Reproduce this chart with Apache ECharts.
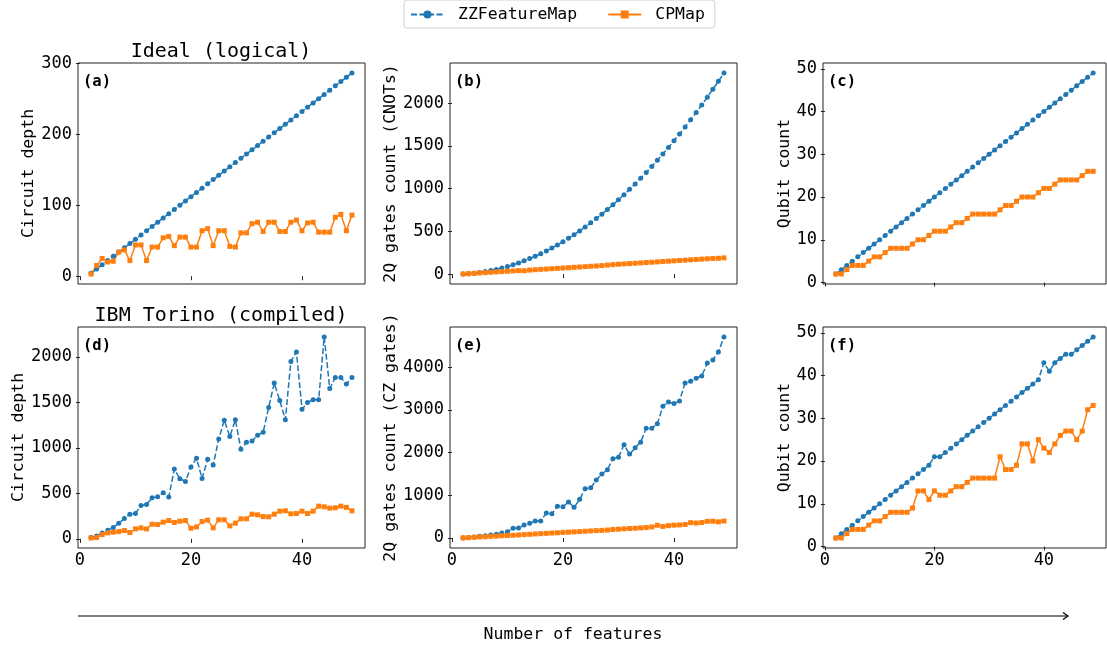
<!DOCTYPE html>
<html>
<head>
<meta charset="utf-8">
<script src="https://cdn.jsdelivr.net/npm/echarts@6/dist/echarts.min.js"></script>
<style>
  html, body { margin: 0; padding: 0; background: #fff; }
  #chart { width: 1107px; height: 649px; }
</style>
</head>
<body>
<div id="chart"></div>
<script>
const features = [2, 3, 4, 5, 6, 7, 8, 9, 10, 11, 12, 13, 14, 15, 16, 17, 18, 19, 20, 21, 22, 23, 24, 25,
  26, 27, 28, 29, 30, 31, 32, 33, 34, 35, 36, 37, 38, 39, 40, 41, 42, 43, 44, 45, 46, 47, 48, 49];

// (a) ideal circuit depth
const zzDepthIdeal = [4, 10, 16, 22, 28, 34, 40, 46, 52, 58, 64, 70, 76, 82, 88, 94, 100, 106, 112, 118, 124, 130, 136, 142,
  148, 154, 160, 166, 172, 178, 184, 190, 196, 202, 208, 214, 220, 226, 232, 238, 244, 250, 256, 262, 268, 274, 280, 286];
const cpDepthIdeal = [3, 15, 25, 20, 21, 34, 37, 22, 44, 44, 22, 41, 41, 54, 56, 43, 55, 55, 41, 41, 64, 67, 43, 64,
  64, 42, 41, 61, 61, 74, 76, 63, 76, 76, 63, 63, 76, 79, 64, 75, 76, 62, 62, 62, 83, 87, 64, 86];

// (b) ideal 2Q gate count (CNOTs)
const zzCnot = [2, 6, 12, 20, 30, 42, 56, 72, 90, 110, 132, 156, 182, 210, 240, 272, 306, 342, 380, 420, 462, 506, 552, 600,
  650, 702, 756, 812, 870, 930, 992, 1056, 1122, 1190, 1260, 1332, 1406, 1482, 1560, 1640, 1722, 1806, 1892, 1980, 2070, 2162, 2256, 2352];
const cpCnot = [2, 6, 10, 14, 18, 22, 26, 30, 34, 38, 42, 40, 48, 52, 56, 60, 64, 68, 72, 76, 80, 84, 88, 92,
  96, 100, 106, 112, 116, 120, 124, 128, 132, 136, 140, 144, 148, 152, 156, 160, 164, 168, 172, 176, 180, 184, 186, 190];

// (c) ideal qubit count
const zzQubitIdeal = [2, 3, 4, 5, 6, 7, 8, 9, 10, 11, 12, 13, 14, 15, 16, 17, 18, 19, 20, 21, 22, 23, 24, 25,
  26, 27, 28, 29, 30, 31, 32, 33, 34, 35, 36, 37, 38, 39, 40, 41, 42, 43, 44, 45, 46, 47, 48, 49];
const cpQubitIdeal = [2, 2, 3, 4, 4, 4, 5, 6, 6, 7, 8, 8, 8, 8, 9, 10, 10, 11, 12, 12, 12, 13, 14, 14,
  15, 16, 16, 16, 16, 16, 17, 18, 18, 19, 20, 20, 20, 21, 22, 22, 23, 24, 24, 24, 24, 25, 26, 26];

// (d) compiled circuit depth
const zzDepthTorino = [15, 33, 66, 96, 125, 173, 224, 272, 279, 368, 379, 452, 463, 507, 460, 768, 662, 632, 790, 886, 665, 875, 812, 1099,
  1305, 1125, 1309, 985, 1062, 1077, 1140, 1173, 1445, 1713, 1522, 1309, 1952, 2055, 1426, 1500, 1529, 1529, 2220, 1654, 1775, 1775, 1702, 1775];
const cpDepthTorino = [10, 15, 48, 66, 74, 81, 92, 70, 110, 121, 110, 162, 158, 184, 202, 180, 195, 202, 118, 132, 191, 206, 121, 210,
  210, 143, 173, 221, 221, 272, 265, 246, 243, 272, 305, 309, 276, 279, 305, 279, 305, 360, 353, 338, 342, 360, 346, 309];

// (e) compiled 2Q gate count (CZ gates)
const zzCz = [2, 8, 23, 39, 55, 70, 86, 117, 148, 226, 234, 304, 343, 398, 398, 585, 569, 741, 733, 842, 718, 905, 1154, 1178,
  1357, 1498, 1599, 1856, 1895, 2184, 1966, 2114, 2246, 2574, 2574, 2675, 3089, 3190, 3151, 3214, 3635, 3674, 3744, 3799, 4103, 4173, 4360, 4711];
const cpCz = [4, 8, 16, 24, 30, 38, 44, 52, 58, 64, 70, 80, 86, 94, 102, 108, 116, 122, 130, 136, 144, 150, 158, 166,
  172, 178, 186, 200, 206, 214, 222, 228, 236, 244, 258, 298, 270, 290, 300, 306, 316, 360, 350, 362, 390, 392, 378, 396];

// (f) compiled qubit count
const zzQubitTorino = [2, 3, 4, 5, 6, 7, 8, 9, 10, 11, 12, 13, 14, 15, 16, 17, 18, 19, 21, 21, 22, 23, 24, 25,
  26, 27, 28, 29, 30, 31, 32, 33, 34, 35, 36, 37, 38, 39, 43, 41, 43, 44, 45, 45, 46, 47, 48, 49];
const cpQubitTorino = [2, 2, 3, 4, 4, 4, 5, 6, 6, 7, 8, 8, 8, 8, 9, 13, 13, 11, 13, 12, 12, 13, 14, 14,
  15, 16, 16, 16, 16, 16, 21, 18, 18, 19, 24, 24, 20, 25, 23, 22, 24, 26, 27, 27, 25, 27, 32, 33];

const xTicks = [0, 20, 40];
const font = 'DejaVu Sans Mono';
const blue = '#1f77b4';
const orange = '#ff7f0e';

const panels = [
  { tag: '(a)', ylabel: 'Circuit depth', zz: zzDepthIdeal, cp: cpDepthIdeal, ymin: -11, ymax: 300.2, yticks: [0, 100, 200, 300], gap: 41 },
  { tag: '(b)', ylabel: '2Q gates count (CNOTs)', zz: zzCnot, cp: cpCnot, ymin: -115, ymax: 2470, yticks: [0, 500, 1000, 1500, 2000], gap: 51 },
  { tag: '(c)', ylabel: 'Qubit count', zz: zzQubitIdeal, cp: cpQubitIdeal, ymin: -0.35, ymax: 51.35, yticks: [0, 10, 20, 30, 40, 50], gap: 30 },
  { tag: '(d)', ylabel: 'Circuit depth', zz: zzDepthTorino, cp: cpDepthTorino, ymin: -100, ymax: 2330, yticks: [0, 500, 1000, 1500, 2000], gap: 51 },
  { tag: '(e)', ylabel: '2Q gates count (CZ gates)', zz: zzCz, cp: cpCz, ymin: -235, ymax: 4946, yticks: [0, 1000, 2000, 3000, 4000], gap: 51 },
  { tag: '(f)', ylabel: 'Qubit count', zz: zzQubitTorino, cp: cpQubitTorino, ymin: -0.35, ymax: 51.35, yticks: [0, 10, 20, 30, 40, 50], gap: 30 }
];

const lefts = [78, 450, 823];
const widths = [287, 287, 283];
const tops = [63, 327];
const h = 221;

const grids = [], xAxes = [], yAxes = [], series = [], graphics = [];

panels.forEach((p, i) => {
  const col = i % 3, row = Math.floor(i / 3);
  grids.push({
    left: lefts[col], top: tops[row], width: widths[col], height: h,
    show: true, borderColor: '#222', borderWidth: 1, backgroundColor: 'transparent'
  });
  xAxes.push({
    type: 'value', gridIndex: i, min: -0.35, max: 51.35,
    axisLine: { show: false },
    splitLine: { show: false },
    axisTick: { show: true, length: 4, lineStyle: { color: '#222' }, customValues: xTicks },
    axisLabel: { show: row === 1, customValues: xTicks, color: '#000', fontFamily: font, fontSize: 17, margin: 4, formatter: v => String(v) }
  });
  yAxes.push({
    type: 'value', gridIndex: i, min: p.ymin, max: p.ymax,
    name: p.ylabel, nameLocation: 'middle', nameGap: p.gap, nameRotate: 90, nameMoveOverlap: false,
    nameTextStyle: { color: '#000', fontFamily: font, fontSize: 16.5 },
    axisLine: { show: false },
    splitLine: { show: false },
    axisTick: { show: true, length: 4, lineStyle: { color: '#222' }, customValues: p.yticks },
    axisLabel: { customValues: p.yticks, color: '#000', fontFamily: font, fontSize: 17, margin: 6, formatter: v => String(v) }
  });
  series.push({
    name: 'ZZFeatureMap', type: 'line', xAxisIndex: i, yAxisIndex: i,
    data: features.map((x, k) => [x, p.zz[k]]),
    symbol: 'circle', symbolSize: 5, showSymbol: true,
    lineStyle: { color: blue, width: 1.5, type: [6, 2.5] },
    itemStyle: { color: blue }
  });
  series.push({
    name: 'CPMap', type: 'line', xAxisIndex: i, yAxisIndex: i,
    data: features.map((x, k) => [x, p.cp[k]]),
    symbol: 'rect', symbolSize: 5, showSymbol: true,
    lineStyle: { color: orange, width: 1.5 },
    itemStyle: { color: orange }
  });
  graphics.push({
    type: 'text', left: lefts[col] + 5, top: tops[row] + 11,
    style: { text: p.tag, font: 'bold 15.5px "DejaVu Sans Mono"', fill: '#000' }
  });
});

graphics.push(
  { type: 'text', x: 221, y: 52, style: { text: 'Ideal (logical)', font: '20px "DejaVu Sans Mono"', fill: '#000', textAlign: 'center', textVerticalAlign: 'middle' } },
  { type: 'text', x: 221, y: 316, style: { text: 'IBM Torino (compiled)', font: '20px "DejaVu Sans Mono"', fill: '#000', textAlign: 'center', textVerticalAlign: 'middle' } },
  { type: 'line', shape: { x1: 78, y1: 616, x2: 1068, y2: 616 }, style: { stroke: '#000', lineWidth: 1.2 } },
  { type: 'polyline', shape: { points: [[1063, 612.5], [1068, 616], [1063, 619.5]] }, style: { stroke: '#000', lineWidth: 1.2, fill: null } },
  { type: 'text', x: 573, y: 635, style: { text: 'Number of features', font: '16.5px "DejaVu Sans Mono"', fill: '#000', textAlign: 'center', textVerticalAlign: 'middle' } }
);

const chart = echarts.init(document.getElementById('chart'));
chart.setOption({
  animation: false,
  legend: {
    data: ['ZZFeatureMap', 'CPMap'],
    top: 0, left: 404,
    itemWidth: 33, itemHeight: 10, itemGap: 30,
    padding: [6, 10, 5, 6],
    borderColor: '#d0d0d0', borderWidth: 1, borderRadius: 3, backgroundColor: '#fff',
    textStyle: { color: '#000', fontFamily: font, fontSize: 16.5, padding: [0, 0, 0, 9] }
  },
  grid: grids,
  xAxis: xAxes,
  yAxis: yAxes,
  series: series,
  graphic: graphics
});
</script>
</body>
</html>
